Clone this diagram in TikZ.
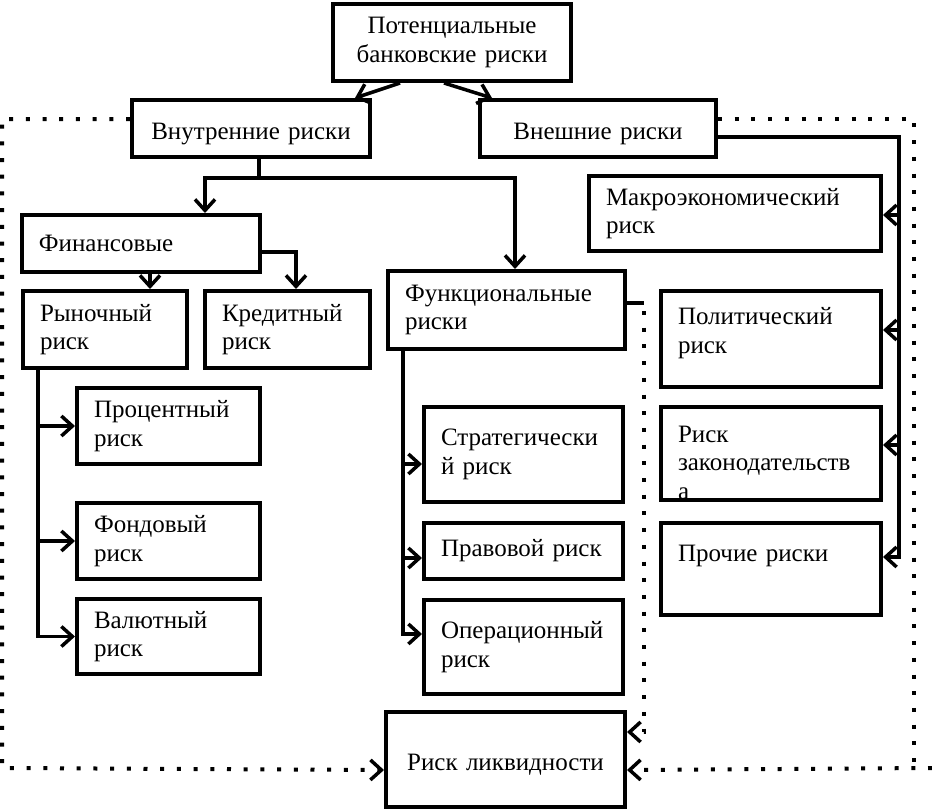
\documentclass[tikz,border=0pt]{standalone}
\usepackage{fontspec}
\setmainfont{Liberation Serif}
\usetikzlibrary{arrows.meta}
\tikzset{
  riskbox/.style={draw, line width=2pt, anchor=north west, inner xsep=8.5pt, inner ysep=0pt, align=left},
  headbox/.style={riskbox, align=center, text height=13.25pt},
  plain/.style={line width=1.75pt},
  link/.style={plain, -{Straight Barb[length=5.5pt,width=10pt]}},
  dotline/.style={line width=2pt, dash pattern=on 2pt off 6.35pt},
  dotarrow/.style={-{Straight Barb[length=5.5pt,width=10pt,line width=1.75pt]}}
}
\begin{document}
\begin{tikzpicture}[x=0.5pt, y=-0.5pt, font=\fontsize{12.5pt}{14.3pt}\selectfont]
      \useasboundingbox (0,0) rectangle (932,809);
      \node[riskbox, align=center, text width=102pt, minimum height=38.5pt] (pot) at (331,2) {Потенциальные\\банковские риски};
      \node[headbox, text width=102pt, minimum height=28.5pt] (inner) at (130,98) {Внутренние риски};
      \node[headbox, text width=101pt, minimum height=28.5pt] (outer) at (478,98) {Внешние риски};
      \node[riskbox, text width=102pt, minimum height=28.5pt] (fin) at (20,213) {Финансовые};
      \node[riskbox, text width=65pt, minimum height=38.5pt] (market) at (21,289) {Рыночный\\риск};
      \node[riskbox, text width=65.5pt, minimum height=38.5pt] (credit) at (203,289) {Кредитный\\риск};
      \node[riskbox, text width=74.5pt, minimum height=38pt] (interest) at (75,386) {Процентный\\риск};
      \node[riskbox, text width=74.5pt, minimum height=38pt] (stock) at (75,501) {Фондовый\\риск};
      \node[riskbox, text width=74.5pt, minimum height=37.5pt] (currency) at (75,597) {Валютный\\риск};
      \node[riskbox, text width=101.5pt, minimum height=39pt] (func) at (386,269) {Функциональные\\риски};
      \node[riskbox, text width=82.5pt, minimum height=47.5pt] (strat) at (422,405) {Стратегически\\й риск};
      \node[riskbox, text width=82.5pt, minimum height=28pt] (legal) at (422,521) {Правовой риск};
      \node[riskbox, text width=82.5pt, minimum height=47pt] (oper) at (422,598) {Операционный\\риск};
      \node[riskbox, text width=129pt, minimum height=37.5pt] (macro) at (587,174) {Макроэкономический\\риск};
      \node[riskbox, text width=93pt, minimum height=48pt, text depth=23pt] (polit) at (659,289) {Политический\\риск};
      \node[riskbox, text width=93pt, minimum height=46.5pt, text depth=19.5pt] (law) at (659,405) {Риск\\законодательств\\а};
      \node[riskbox, text width=93pt, minimum height=46pt, text depth=15.5pt] (other) at (659,521) {Прочие риски};
      \node[headbox, text width=102.5pt, minimum height=47.5pt] (liq) at (384,710) {Риск ликвидности};
      \coordinate (lframe) at (2,768);
      \coordinate (rframe) at (914,768);
      \coordinate (redge) at (932,768);
      \draw[link] ([xshift=-26pt]pot.south) -- ([xshift=52pt]inner.north);
      \draw[link] ([xshift=-4pt]pot.south) -- ([xshift=-53pt]outer.north);
      \draw[plain] ([xshift=4pt]inner.south) -- ++(0,-9.5pt) coordinate (isplit);
      \draw[link] (isplit) -| ([xshift=32pt]fin.north);
      \draw[link] (isplit) -| ([xshift=4.25pt]func.north);
      \draw[link] ([xshift=4.5pt]fin.south) -- ([xshift=4.5pt]fin.south |- market.north);
      \draw[link] ([yshift=-4.25pt]fin.east) -| ([xshift=4.25pt]credit.north);
      \draw[link] ([xshift=8.5pt]market.south west) |- (interest.west);
      \draw[link] ([xshift=8.5pt]market.south west) |- (stock.west);
      \draw[link] ([xshift=8.5pt]market.south west) |- (currency.west);
      \draw[link] ([xshift=8.5pt]func.south west) |- ([yshift=-4.75pt]strat.west);
      \draw[link] ([xshift=8.5pt]func.south west) |- ([yshift=-3.5pt]legal.west);
      \draw[link] ([xshift=8.5pt]func.south west) |- ([yshift=6.5pt]oper.west);
      \draw[link] ([yshift=-4.25pt]outer.east) -| ([xshift=8pt,yshift=6pt]other.east) -- ([yshift=6pt]other.east);
      \draw[link] ([xshift=8pt,yshift=-0.75pt]macro.east) -- ([yshift=-0.75pt]macro.east);
      \draw[link] ([xshift=8pt,yshift=4.5pt]polit.east) -- ([yshift=4.5pt]polit.east);
      \draw[link] ([xshift=8pt,yshift=4.25pt]law.east) -- ([yshift=4.25pt]law.east);
      \draw[plain] ([yshift=3.5pt]func.east) -- ++(8.5pt,0) coordinate (fstub);
      \draw[dotline, dotarrow] ([yshift=-4pt]fstub) |- ([yshift=13.75pt]liq.east);
      \draw[dotline, dotarrow] ([yshift=4.75pt]inner.west) -| (lframe) -- ([yshift=-5.25pt]liq.west);
      \draw[dotline] ([yshift=4.75pt]outer.east) -| (rframe);
      \draw[dotline, dotarrow] (redge) -- ([yshift=-5.25pt]liq.east);
    \end{tikzpicture}
\end{document}
